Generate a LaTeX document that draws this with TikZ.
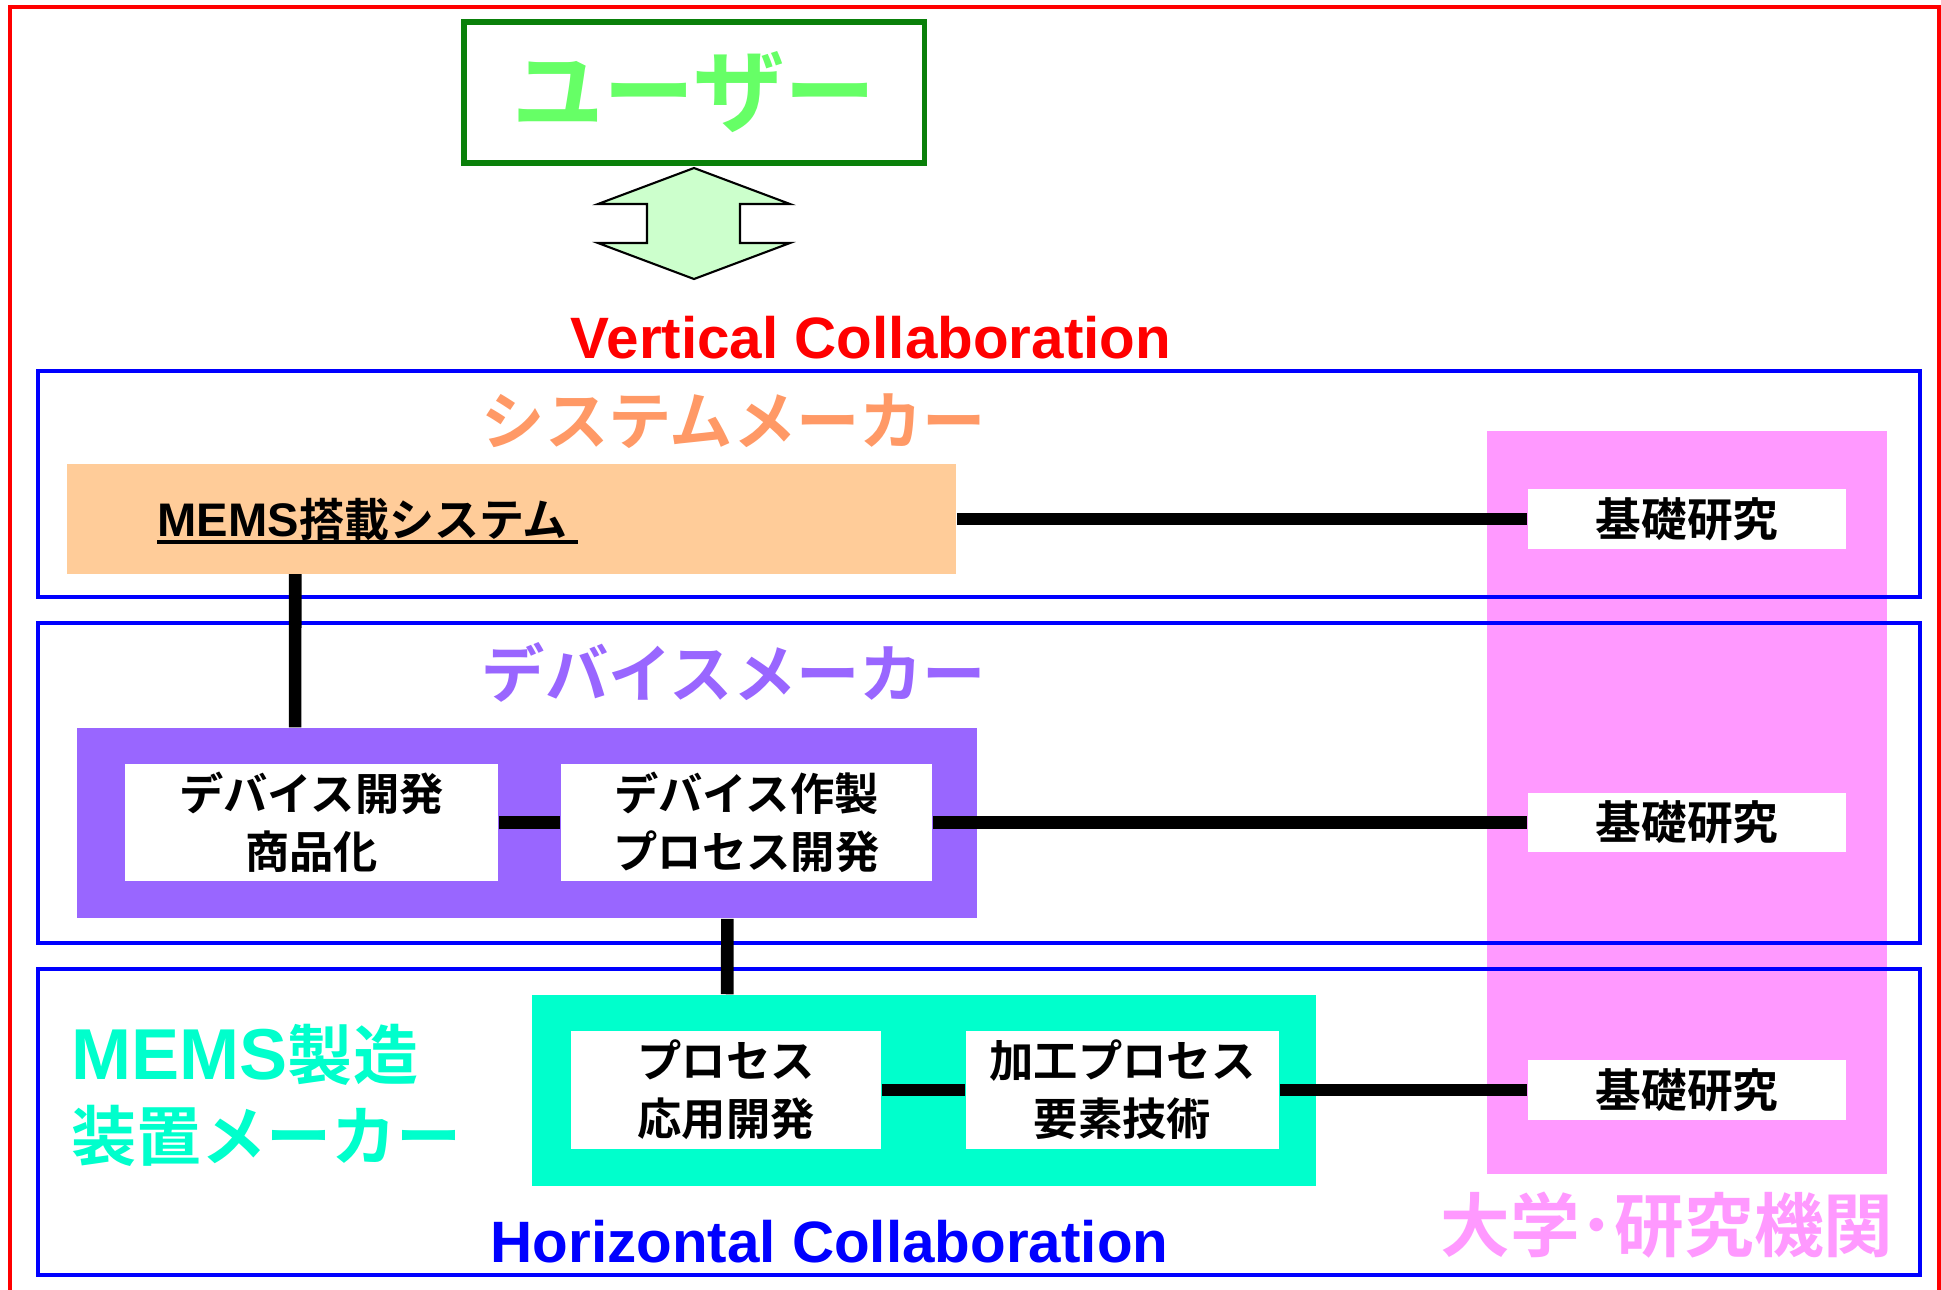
\documentclass[tikz,border=0pt]{standalone}
\usepackage{fontspec}
\setmainfont{Liberation Sans}
\newfontfamily\jpb{Noto Sans CJK JP Bold}
\newfontfamily\latb{Liberation Sans Bold}
\definecolor{redF}{HTML}{FF0000}
\definecolor{blueF}{HTML}{0000FF}
\definecolor{greenD}{HTML}{0A800A}
\definecolor{greenT}{HTML}{66FF66}
\definecolor{greenA}{HTML}{CCFFCC}
\definecolor{orangeT}{HTML}{FF9966}
\definecolor{orangeF}{HTML}{FFCC99}
\definecolor{purpleF}{HTML}{9966FF}
\definecolor{tealF}{HTML}{00FFCC}
\definecolor{pinkF}{HTML}{FF99FF}
\begin{document}
\begin{tikzpicture}[x=0.01cm,y=-0.01cm,
  wbox/.style={fill=white, inner sep=0pt, align=center,
    font=\jpb\fontsize{12.6}{16.5}\selectfont},
  kiso/.style={fill=white, inner sep=0pt, minimum width=3.18cm, minimum height=0.59cm,
    font=\jpb\fontsize{13}{15}\selectfont},
  link/.style={line width=3.6pt, black},
  bluebox/.style={draw=blueF, line width=1.4pt},
  bigtitle/.style={inner sep=0pt, font=\jpb\fontsize{18}{22}\selectfont},
  engtitle/.style={inner sep=0pt, font=\bfseries\fontsize{16.6}{20}\selectfont},
]
\useasboundingbox (0,0) rectangle (1941,1290);
\fill[white] (0,0) rectangle (1941,1290);
\draw[redF, line width=1.4pt] (10,1290) -- (10,7) -- (1939,7) -- (1939,1290);

% user
\node[draw=greenD, line width=1.5pt, minimum width=4.60cm, minimum height=1.41cm, inner sep=0pt,
  font=\jpb\fontsize{26}{30}\selectfont, text=greenT] (user) at (694,92.5) {ユーザー};

% double arrow
\draw[fill=greenA, line width=0.6pt, line join=miter]
  (694,168) -- (790,204) -- (740,204) -- (740,243) -- (790,243) -- (694,279)
  -- (598,243) -- (647,243) -- (647,204) -- (598,204) -- cycle;

\node[engtitle, text=redF] (vc) at (871,338) {Vertical Collaboration};

% university column
\node[fill=pinkF, inner sep=0pt, minimum width=4.00cm, minimum height=7.43cm] (univ) at (1687,802.5) {};

% layer frames
\draw[bluebox] (38,371) rectangle (1920,597);
\draw[bluebox] (38,623) rectangle (1920,943);
\draw[bluebox] (38,969) rectangle (1920,1275);

% system maker
\node[bigtitle, text=orangeT] (sysmk) at (734,421) {システムメーカー};
\node[fill=orangeF, inner sep=0pt, minimum width=8.89cm, minimum height=1.09cm] (memsbox) at (511.5,519) {};
\node[anchor=west, inner sep=0pt, font=\jpb\fontsize{12.8}{15}\selectfont] (memstext) at (157,519)
  {{\latb\fontsize{13.4}{15}\selectfont MEMS}搭載システム};
\draw[line width=1.1pt] (157,542) -- (578,542);
\node[kiso] (kiso1) at (1687,519) {基礎研究};

% device maker
\node[bigtitle, text=purpleF] (devmk) at (734,672) {デバイスメーカー};
\node[fill=purpleF, inner sep=0pt, minimum width=9.00cm, minimum height=1.90cm] (devbox) at (527,823) {};
\node[wbox, minimum width=3.73cm, minimum height=1.17cm] (devdev) at (311.5,822.5) {デバイス開発\\商品化};
\node[wbox, minimum width=3.71cm, minimum height=1.17cm] (devproc) at (746.5,822.5) {デバイス作製\\プロセス開発};
\node[kiso] (kiso2) at (1687,822.5) {基礎研究};

% equipment maker
\node[anchor=west, inner sep=0pt, align=left, text=tealF,
  font=\jpb\fontsize{18.5}{23}\selectfont] (eqmk) at (71,1095.5)
  {{\latb\fontsize{20.5}{23}\selectfont MEMS}製造\\装置メーカー};
\node[fill=tealF, inner sep=0pt, minimum width=7.84cm, minimum height=1.91cm] (tealbox) at (924,1090.5) {};
\node[wbox, minimum width=3.10cm, minimum height=1.18cm] (procapp) at (726,1090) {プロセス\\応用開発};
\node[wbox, minimum width=3.13cm, minimum height=1.18cm] (kakou) at (1122.5,1090) {加工プロセス\\要素技術};
\node[kiso] (kiso3) at (1687,1090) {基礎研究};

\node[engtitle, text=blueF] (hc) at (829.5,1242) {Horizontal Collaboration};
\node[inner sep=0pt, text=pinkF, font=\jpb\fontsize{19.8}{22}\selectfont] (univt) at (1667,1225) {大学･研究機関};

% connectors
\draw[link] (memsbox) -- (kiso1);
\draw[link] ([xshift=2.29cm]memsbox.south west) -- ([xshift=2.19cm]devbox.north west);
\draw[link] (devdev) -- (devproc);
\draw[link] (devproc) -- (kiso2);
\draw[link] ([xshift=6.51cm]devbox.south west) -- ([xshift=1.96cm]tealbox.north west);
\draw[link] (procapp) -- (kakou);
\draw[link] (kakou) -- (kiso3);
\end{tikzpicture}
\end{document}
